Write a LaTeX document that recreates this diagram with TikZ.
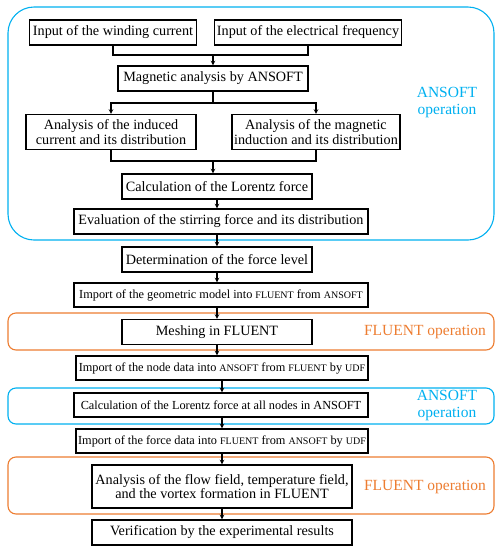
\documentclass[tikz,border=0pt]{standalone}
\usepackage{fontspec}
\setmainfont{Liberation Serif}
\usetikzlibrary{positioning,arrows}
\definecolor{ansoftblue}{RGB}{0,176,240}
\definecolor{fluentorange}{RGB}{237,125,49}
\newcommand{\capsize}[1]{{\fontsize{10}{10}\selectfont #1}}

\begin{document}
\begin{tikzpicture}[x=1pt,y=-1pt,>=stealth,
  box/.style={draw,line width=1.1pt,align=center,inner sep=1pt,font=\fontsize{14.2}{14.6}\selectfont},
  smallbox/.style={box,font=\fontsize{12.3}{13}\selectfont},
  frame/.style={line width=1.1pt},
  tag/.style={align=center,font=\fontsize{15.5}{17}\selectfont}]
\useasboundingbox (0,0) rectangle (500,550);

% ANSOFT part
\node (wc) [box,minimum width=167pt,minimum height=25pt] at (113,32.5) {Input of the winding current};
\node (ef) [box,minimum width=187pt,minimum height=25pt] at (308,32.5) {Input of the electrical frequency};
\node (ma) [box,minimum width=190pt,minimum height=25pt] at (213,78.5) {Magnetic analysis by ANSOFT};
\node (ic) [box,minimum width=170pt,minimum height=35pt] at (111,132) {Analysis of the induced\\current and its distribution};
\node (mi) [box,minimum width=168pt,minimum height=35pt] at (316,132) {Analysis of the magnetic\\induction and its distribution};
\node (lf) [box,minimum width=190pt,minimum height=25pt] at (217,186.5) {Calculation of the Lorentz force};
\node (sf) [box,minimum width=294pt,minimum height=25pt] at (221,221.5) {Evaluation of the stirring force and its distribution};
\node (fl) [box,minimum width=190pt,minimum height=25pt] at (217,259.5) {Determination of the force level};

% exchange and FLUENT part
\node (gm) [smallbox,minimum width=294pt,minimum height=24pt] at (221,295) {Import of the geometric model into \capsize{FLUENT} from \capsize{ANSOFT}};
\node (me) [box,minimum width=190pt,minimum height=25pt] at (217,332) {Meshing in FLUENT};
\node (nd) [smallbox,minimum width=292pt,minimum height=24pt] at (222,368) {Import of the node data into \capsize{ANSOFT} from \capsize{FLUENT} by \capsize{UDF}};
\node (an) [smallbox,minimum width=294pt,minimum height=24pt] at (221,405) {Calculation of the Lorentz force at all nodes in ANSOFT};
\node (fd) [smallbox,minimum width=292pt,minimum height=24pt] at (222,441) {Import of the force data into \capsize{FLUENT} from \capsize{ANSOFT} by \capsize{UDF}};
\node (ff) [box,minimum width=260pt,minimum height=43pt] at (222,486.5) {Analysis of the flow field, temperature field,\\and the vortex formation in FLUENT};
\node (ve) [box,minimum width=260pt,minimum height=25pt] at (222,532.5) {Verification by the experimental results};

% frames
\draw[frame,ansoftblue,rounded corners=26pt] (8,7) rectangle (494,240);
\draw[frame,fluentorange,rounded corners=8pt] (8,313) rectangle (494,350);
\draw[frame,ansoftblue,rounded corners=8pt] (8,388) rectangle (494,424);
\draw[frame,fluentorange,rounded corners=8pt] (8,457) rectangle (494,514);
\node (t1) [tag,ansoftblue] at (447,103) {ANSOFT\\operation};
\node (t2) [tag,fluentorange] at (425,332) {FLUENT operation};
\node (t3) [tag,ansoftblue] at (447,406) {ANSOFT\\operation};
\node (t4) [tag,fluentorange] at (425,487) {FLUENT operation};

% connectors
\coordinate (j1) at (213,55);
\coordinate (j2) at (213,103);
\coordinate (j3) at (213,161);
\draw[line width=1.1pt] (wc.south) |- (j1) -| (ef.south);
\draw[->,line width=1.1pt] (j1) -- (ma.north);
\draw[line width=1.1pt] (ma.south) -- (j2);
\draw[->,line width=1.1pt] (j2) -| (ic.north);
\draw[->,line width=1.1pt] (j2) -| (mi.north);
\draw[line width=1.1pt] (ic.south) |- (j3) -| (mi.south);
\draw[->,line width=1.1pt] (j3) -- (j3 |- lf.north);
\draw[->,line width=1.1pt] (lf.south) -- (lf.south |- sf.north);
\draw[->,line width=1.1pt] (fl.south |- sf.south) -- (fl.north);
\draw[->,line width=1.1pt] (fl.south) -- (fl.south |- gm.north);
\draw[->,line width=1.1pt] (me.south |- gm.south) -- (me.north);
\draw[->,line width=1.1pt] (me.south) -- (me.south |- nd.north);
\draw[->,line width=1.1pt] (nd.south) -- (nd.south |- an.north);
\draw[->,line width=1.1pt] (fd.north |- an.south) -- (fd.north);
\draw[->,line width=1.1pt] (fd.south) -- (ff.north);
\draw[->,line width=1.1pt] (ff.south) -- (ve.north);
\end{tikzpicture}
\end{document}
